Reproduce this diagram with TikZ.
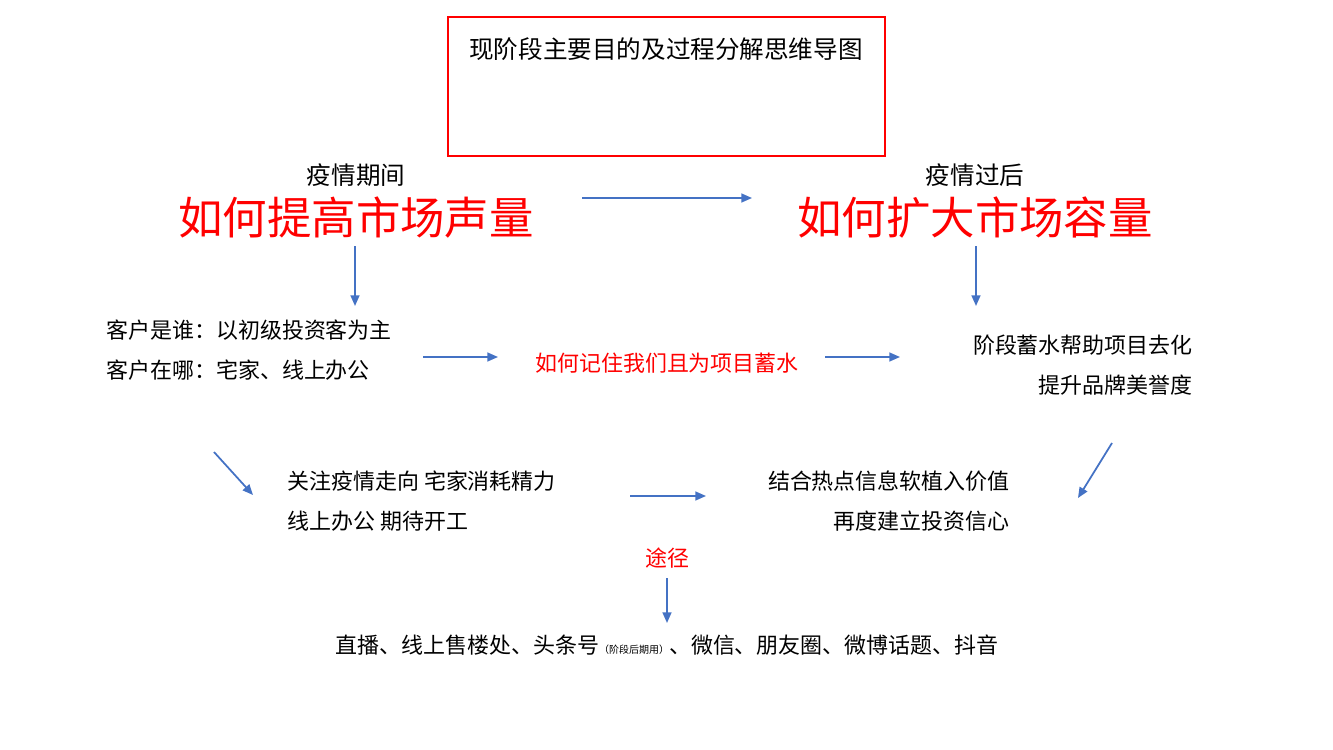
\documentclass[tikz,border=0pt]{standalone}
\usepackage{fontspec}
\setmainfont{Noto Sans CJK SC}
\usetikzlibrary{arrows.meta,positioning}
\definecolor{arrblue}{RGB}{68,114,196}

\begin{document}
\begin{tikzpicture}[x=0.02cm, y=-0.02cm,
  every node/.style={inner sep=0pt},
  arr/.style={arrblue, line width=1pt, -{Triangle[length=6pt,width=5pt]}},
  big/.style={font=\fontsize{25.3}{28}\selectfont, text=red},
  head/.style={font=\fontsize{14}{16}\selectfont},
  txt/.style={font=\fontsize{12.5}{14}\selectfont}]
  \useasboundingbox (0,0) rectangle (1333,750);

  % title box
  \draw[red, line width=0.8pt] (448,17) rectangle (885,156);
  \node[head] (title) at (666,49) {现阶段主要目的及过程分解思维导图};

  % two questions
  \node[head] (t1) at (356,175) {疫情期间};
  \node[big] (q1) at (356,218) {如何提高市场声量};
  \node[head] (t2) at (975,175) {疫情过后};
  \node[big] (q2) at (975,218) {如何扩大市场容量};
  \coordinate (q1r) at (582,198);
  \coordinate (q2l) at (752,198);
  \draw[arr] (q1r) -- (q2l);

  % middle row
  \node[txt, anchor=west] (c1) at (106,330) {客户是谁：以初级投资客为主};
  \node[txt, anchor=west] (c2) at (106,370) {客户在哪：宅家、线上办公};
  \node[txt, text=red] (mid) at (667,363) {如何记住我们且为项目蓄水};
  \node[txt, anchor=east] (g1) at (1193,345) {阶段蓄水帮助项目去化};
  \node[txt, anchor=east] (g2) at (1193,385) {提升品牌美誉度};
  \coordinate (q1d) at (355,246);
  \coordinate (c1u) at (355,306);
  \coordinate (q2d) at (976,246);
  \coordinate (g1u) at (976,306);
  \draw[arr] (q1d) -- (c1u);
  \draw[arr] (q2d) -- (g1u);
  \coordinate (c2r) at (423,357);
  \coordinate (midl) at (498,357);
  \coordinate (midr) at (825,357);
  \coordinate (g1l) at (900,357);
  \draw[arr] (c2r) -- (midl);
  \draw[arr] (midr) -- (g1l);

  % lower row
  \node[txt, anchor=west] (f1) at (287,481) {关注疫情走向 宅家消耗精力};
  \node[txt, anchor=west] (f2) at (287,521) {线上办公 期待开工};
  \node[txt, anchor=east] (v1) at (1010,481) {结合热点信息软植入价值};
  \node[txt, anchor=east] (v2) at (1010,521) {再度建立投资信心};
  \coordinate (c2d) at (214,452);
  \coordinate (f1l) at (253,495);
  \coordinate (f1r) at (630,496);
  \coordinate (v1l) at (706,496);
  \coordinate (g2d) at (1112,443);
  \coordinate (v1r) at (1078,498);
  \draw[arr] (c2d) -- (f1l);
  \draw[arr] (f1r) -- (v1l);
  \draw[arr] (g2d) -- (v1r);

  % channels
  \node[txt, text=red] (way) at (667,558) {途径};
  \node[txt] (chan) at (667,645) {直播、线上售楼处、头条号{\fontsize{5.7}{7}\selectfont（阶段后期用）}、微信、朋友圈、微博话题、抖音};
  \coordinate (wayd) at (667,578);
  \coordinate (chanu) at (667,623);
  \draw[arr] (wayd) -- (chanu);
\end{tikzpicture}
\end{document}
